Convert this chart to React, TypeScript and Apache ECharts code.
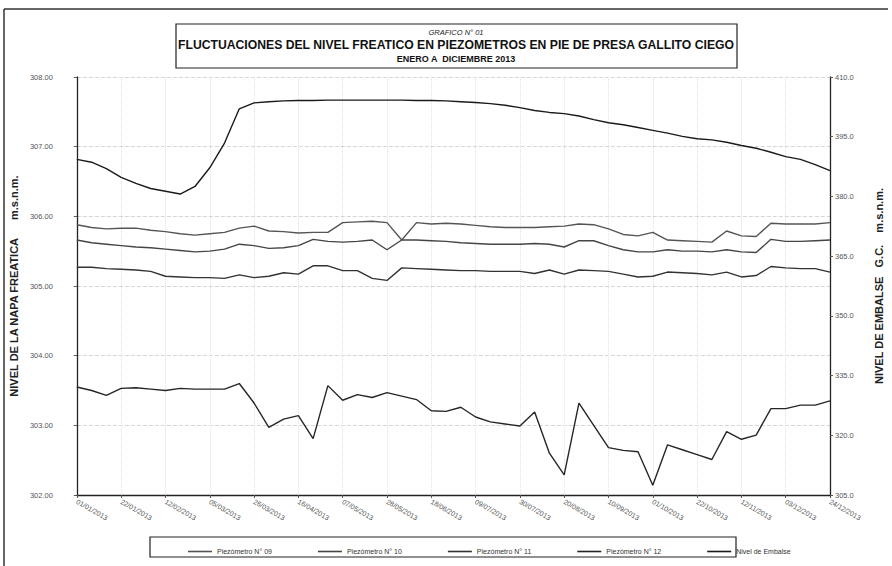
import React, { useEffect, useRef } from "react";
import * as echarts from "echarts";

// Weekly measurement dates
const measureDates = [
  "01/01/2013", "08/01/2013", "15/01/2013", "22/01/2013", "29/01/2013",
  "05/02/2013", "12/02/2013", "19/02/2013", "26/02/2013",
  "05/03/2013", "12/03/2013", "19/03/2013", "26/03/2013",
  "02/04/2013", "09/04/2013", "16/04/2013", "23/04/2013", "30/04/2013",
  "07/05/2013", "14/05/2013", "21/05/2013", "28/05/2013",
  "04/06/2013", "11/06/2013", "18/06/2013", "25/06/2013",
  "02/07/2013", "09/07/2013", "16/07/2013", "23/07/2013", "30/07/2013",
  "06/08/2013", "13/08/2013", "20/08/2013", "27/08/2013",
  "03/09/2013", "10/09/2013", "17/09/2013", "24/09/2013",
  "01/10/2013", "08/10/2013", "15/10/2013", "22/10/2013", "29/10/2013",
  "05/11/2013", "12/11/2013", "19/11/2013", "26/11/2013",
  "03/12/2013", "10/12/2013", "17/12/2013", "24/12/2013",
];

const xTickLabels = [
  "01/01/2013", "22/01/2013", "12/02/2013", "05/03/2013", "26/03/2013",
  "16/04/2013", "07/05/2013", "28/05/2013", "18/06/2013", "09/07/2013",
  "30/07/2013", "20/08/2013", "10/09/2013", "01/10/2013", "22/10/2013",
  "12/11/2013", "03/12/2013", "24/12/2013",
];

const piezometro09 = [
  305.88, 305.84, 305.82, 305.83, 305.83, 305.80, 305.78, 305.75, 305.73, 305.75,
  305.77, 305.83, 305.86, 305.79, 305.78, 305.76, 305.77, 305.77, 305.91, 305.92,
  305.93, 305.91, 305.66, 305.91, 305.89, 305.90, 305.89, 305.87, 305.85, 305.84,
  305.84, 305.84, 305.85, 305.86, 305.89, 305.88, 305.82, 305.74, 305.72, 305.77,
  305.66, 305.65, 305.64, 305.63, 305.79, 305.72, 305.71, 305.90, 305.89, 305.89,
  305.89, 305.91,
];

const piezometro10 = [
  305.66, 305.62, 305.60, 305.58, 305.56, 305.55, 305.53, 305.51, 305.49, 305.50,
  305.53, 305.60, 305.58, 305.54, 305.55, 305.58, 305.67, 305.64, 305.63, 305.64,
  305.66, 305.52, 305.66, 305.66, 305.65, 305.64, 305.62, 305.61, 305.60, 305.60,
  305.60, 305.61, 305.60, 305.56, 305.65, 305.65, 305.58, 305.52, 305.49, 305.49,
  305.52, 305.50, 305.50, 305.49, 305.52, 305.49, 305.48, 305.67, 305.64, 305.64,
  305.65, 305.66,
];

const piezometro11 = [
  305.27, 305.27, 305.25, 305.24, 305.23, 305.21, 305.14, 305.13, 305.12, 305.12,
  305.11, 305.16, 305.12, 305.14, 305.19, 305.17, 305.29, 305.29, 305.22, 305.22,
  305.11, 305.08, 305.26, 305.25, 305.24, 305.23, 305.22, 305.22, 305.21, 305.21,
  305.21, 305.18, 305.23, 305.17, 305.23, 305.22, 305.21, 305.17, 305.13, 305.14,
  305.20, 305.19, 305.18, 305.16, 305.20, 305.13, 305.15, 305.28, 305.26, 305.25,
  305.25, 305.20,
];

const piezometro12 = [
  303.55, 303.50, 303.43, 303.53, 303.54, 303.52, 303.50, 303.53, 303.52, 303.52,
  303.52, 303.60, 303.32, 302.97, 303.09, 303.14, 302.81, 303.57, 303.36, 303.44,
  303.40, 303.47, 303.42, 303.37, 303.21, 303.20, 303.26, 303.12, 303.05, 303.02,
  302.99, 303.19, 302.60, 302.29, 303.32, 303.00, 302.68, 302.64, 302.62, 302.14,
  302.72, 302.65, 302.58, 302.51, 302.91, 302.80, 302.86, 303.24, 303.24, 303.29,
  303.29, 303.35,
];

const nivelEmbalse = [
  389.3, 388.6, 387.0, 384.8, 383.3, 382.0, 381.3, 380.6, 382.5, 387.2,
  393.4, 402.0, 403.5, 403.8, 404.0, 404.1, 404.1, 404.2, 404.2, 404.2,
  404.2, 404.2, 404.2, 404.1, 404.1, 404.0, 403.8, 403.6, 403.3, 402.9,
  402.3, 401.6, 401.1, 400.8, 400.2, 399.3, 398.5, 398.0, 397.3, 396.6,
  395.9, 395.1, 394.5, 394.2, 393.6, 392.8, 392.1, 391.1, 390.0, 389.3,
  388.0, 386.5,
];

const seriesNames = [
  "Piezómetro N° 09",
  "Piezómetro N° 10",
  "Piezómetro N° 11",
  "Piezómetro N° 12",
  "Nivel de Embalse",
];

function dayOfYear(s: string): number {
  const [d, m, y] = s.split("/").map(Number);
  return Math.round((Date.UTC(y, m - 1, d) - Date.UTC(y, 0, 1)) / 86400000);
}

const FONT = "'Liberation Sans', Arial, sans-serif";

export default function App() {
  const ref = useRef<HTMLDivElement>(null);

  useEffect(() => {
    if (!ref.current) return;
    const chart = echarts.init(ref.current, null, { renderer: "svg" });
    const days = measureDates.map(dayOfYear);
    const pair = (vals: number[]) => vals.map((v, i) => [days[i], v]);
    const colors = ["#555555", "#454545", "#333333", "#262626", "#1a1a1a"];
    const allData = [piezometro09, piezometro10, piezometro11, piezometro12, nivelEmbalse];

    const option: any = {
      animation: false,
      backgroundColor: "#ffffff",
      textStyle: { fontFamily: FONT },
      grid: { left: 73, right: 56, top: 77, bottom: 71, containLabel: false },
      xAxis: {
        type: "value",
        min: 0,
        max: 357,
        interval: 21,
        axisLine: { lineStyle: { color: "#222", width: 1.3 } },
        axisTick: { show: true, length: 3, lineStyle: { color: "#555" } },
        axisLabel: {
          rotate: -30,
          fontSize: 7,
          color: "#555",
          margin: 6,
          formatter: (v: number) => xTickLabels[Math.round(v / 21)] ?? "",
        },
        splitLine: { show: true, lineStyle: { type: "dotted", color: "#e2e2e2" } },
      },
      yAxis: [
        {
          type: "value",
          min: 302,
          max: 308,
          interval: 1,
          position: "left",
          name: "NIVEL DE LA NAPA FREATICA      m.s.n.m.",
          nameLocation: "middle",
          nameRotate: 90,
          nameGap: 47,
          nameTextStyle: { fontSize: 11, fontWeight: "bold", color: "#222", fontFamily: FONT },
          axisLine: { show: true, lineStyle: { color: "#222", width: 1.3 } },
          axisTick: { show: true, length: 3, lineStyle: { color: "#555" } },
          axisLabel: {
            fontSize: 7.5,
            color: "#555",
            margin: 24,
            formatter: (v: number) => v.toFixed(2),
          },
          splitLine: { show: true, lineStyle: { type: "dashed", color: "#d6d6d6" } },
        },
        {
          type: "value",
          min: 305,
          max: 410,
          interval: 15,
          position: "right",
          name: "NIVEL DE EMBALSE   G.C.    m.s.n.m.",
          nameLocation: "middle",
          nameRotate: 90,
          nameGap: 43,
          nameTextStyle: { fontSize: 11, fontWeight: "bold", color: "#222", fontFamily: FONT },
          axisLine: { show: true, lineStyle: { color: "#222", width: 1.3 } },
          axisTick: { show: true, length: 3, lineStyle: { color: "#555" } },
          axisLabel: {
            fontSize: 7.5,
            color: "#555",
            margin: 5,
            formatter: (v: number) => v.toFixed(1),
          },
          splitLine: { show: false },
        },
      ],
      legend: {
        left: 183,
        top: 543,
        icon: "rect",
        itemWidth: 24,
        itemHeight: 1.6,
        itemGap: 46,
        textStyle: { fontSize: 7, color: "#333", fontFamily: FONT },
        data: seriesNames,
      },
      series: allData.map((vals, i) => ({
        name: seriesNames[i],
        type: "line",
        yAxisIndex: i === 4 ? 1 : 0,
        data: pair(vals),
        symbol: "none",
        lineStyle: { color: colors[i], width: 1.4 },
        itemStyle: { color: colors[i] },
      })),
      graphic: [
        {
          type: "line",
          shape: { x1: 4, y1: 9, x2: 888, y2: 9 },
          style: { stroke: "#333", lineWidth: 1.5 },
        },
        {
          type: "line",
          shape: { x1: 4, y1: 9, x2: 4, y2: 566 },
          style: { stroke: "#333", lineWidth: 1.5 },
        },
        {
          type: "rect",
          shape: { x: 176, y: 24, width: 561, height: 44 },
          style: { fill: "none", stroke: "#222", lineWidth: 1.2 },
        },
        {
          type: "text",
          x: 456,
          y: 32,
          style: {
            text: "GRAFICO N° 01",
            fontSize: 7.5,
            fontStyle: "italic",
            fill: "#222",
            fontFamily: FONT,
            align: "center",
            verticalAlign: "middle",
          },
        },
        {
          type: "text",
          x: 456,
          y: 45,
          style: {
            text: "FLUCTUACIONES DEL NIVEL FREATICO EN PIEZOMETROS EN PIE DE PRESA GALLITO CIEGO",
            fontSize: 12.2,
            fontWeight: "bold",
            fill: "#111",
            fontFamily: FONT,
            align: "center",
            verticalAlign: "middle",
          },
        },
        {
          type: "text",
          x: 456,
          y: 59,
          style: {
            text: "ENERO A  DICIEMBRE 2013",
            fontSize: 9,
            fontWeight: "bold",
            fill: "#111",
            fontFamily: FONT,
            align: "center",
            verticalAlign: "middle",
          },
        },
        {
          type: "rect",
          shape: { x: 150, y: 537, width: 586, height: 20 },
          style: { fill: "none", stroke: "#222", lineWidth: 1.2 },
        },
      ],
    };

    chart.setOption(option);
    return () => chart.dispose();
  }, []);

  return (
    <div
      ref={ref}
      style={{ position: "fixed", left: 0, top: 0, width: 892, height: 566, background: "#fff" }}
    />
  );
}
